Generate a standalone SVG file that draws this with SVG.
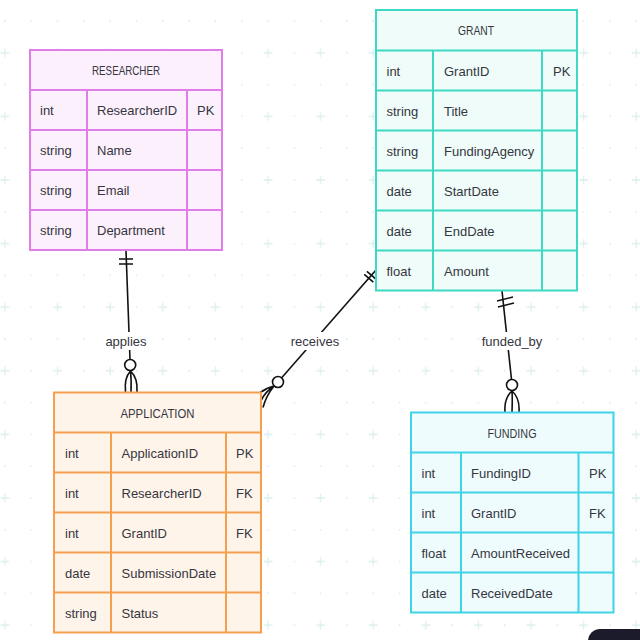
<svg xmlns="http://www.w3.org/2000/svg" width="640" height="640" viewBox="0 0 640 640">
<defs>
<pattern id="grid" patternUnits="userSpaceOnUse" x="-8.15" y="5.1" width="52.6" height="63.6">
<circle cx="13.15" cy="15.9" r="1" fill="#e4eaec"/>
<circle cx="39.45" cy="15.9" r="1" fill="#e4eaec"/>
<circle cx="39.45" cy="47.7" r="1" fill="#e4eaec"/>
<path d="M8.65,47.7 H17.65 M13.15,43.2 V52.2" stroke="#dcf0ee" stroke-width="1.3"/>
</pattern>
<style>
text{font-family:"Liberation Sans",Arial,sans-serif;font-size:13px;fill:#363640}
.h{text-anchor:middle;font-size:13.5px}
.lbl{text-anchor:middle;font-size:13px}
.res rect,.res line{stroke:#e07de9}
.res rect{fill:#fcf0fd}
.gra rect,.gra line{stroke:#3ed8c3}
.gra rect{fill:#effcfa}
.app rect,.app line{stroke:#f5a04e}
.app rect{fill:#fff4ea}
.fun rect,.fun line{stroke:#40d3e8}
.fun rect{fill:#effcfe}
.tbl rect,.tbl line{stroke-width:2}
.con path{fill:none;stroke:#111;stroke-width:1.6}
.con circle{fill:#fff;stroke:#111;stroke-width:1.6}
.lb{fill:#fff}
</style>
</defs>
<rect width="640" height="640" fill="#fff"/>
<rect width="640" height="640" fill="url(#grid)"/>

<g id="connectors" class="con">
<g id="applies">
<path d="M126,251 L130,359.5"/>
<path d="M119,259 H133 M119,264 H133"/>
<circle cx="130.2" cy="365" r="5.5"/>
<path d="M130.5,371 Q124,378 125.5,392 M130.5,371 Q131.5,380 131,392 M130.5,371 Q138,378 137,392"/>
<rect class="lb" x="102" y="332" width="48" height="18"/>
<text class="lbl" x="126" y="346">applies</text>
</g>
<g id="receives">
<path d="M376,270 L281.7,377.8"/>
<path d="M366.9,271.4 L375.9,279.2 M364.3,274.4 L373.3,282.2"/>
<circle cx="278" cy="382" r="5.5"/>
<path d="M274,386 Q266,388 259.5,393 M274,386 Q265,392 261.5,400 M274,386 Q266,396 263,407.5"/>
<rect class="lb" x="289" y="332" width="52" height="18"/>
<text class="lbl" x="315" y="346">receives</text>
</g>
<g id="funded_by">
<path d="M502,291 L511.5,379.5"/>
<path d="M497,301 L513,297 M498,307 L514,303"/>
<circle cx="512" cy="385" r="5.5"/>
<path d="M512,391 Q504,398 505,412 M512,391 Q512.5,400 512,412 M512,391 Q520,398 519,412"/>
<rect class="lb" x="481" y="332" width="62" height="18"/>
<text class="lbl" x="512" y="346">funded_by</text>
</g>
</g>

<g id="RESEARCHER" class="tbl res">
<rect x="30" y="50" width="192" height="200"/>
<line x1="30" y1="90" x2="222" y2="90"/>
<line x1="30" y1="130" x2="222" y2="130"/>
<line x1="30" y1="170" x2="222" y2="170"/>
<line x1="30" y1="210" x2="222" y2="210"/>
<line x1="87" y1="90" x2="87" y2="250"/>
<line x1="187" y1="90" x2="187" y2="250"/>
<text class="h" x="126" y="75" textLength="68" lengthAdjust="spacingAndGlyphs">RESEARCHER</text>
<text x="40" y="115">int</text><text x="97" y="115">ResearcherID</text><text x="197" y="115">PK</text>
<text x="40" y="155">string</text><text x="97" y="155">Name</text>
<text x="40" y="195">string</text><text x="97" y="195">Email</text>
<text x="40" y="235">string</text><text x="97" y="235">Department</text>
</g>

<g id="GRANT" class="tbl gra">
<rect x="376" y="10" width="201" height="280.5"/>
<line x1="376" y1="50.5" x2="577" y2="50.5"/>
<line x1="376" y1="90.5" x2="577" y2="90.5"/>
<line x1="376" y1="130.5" x2="577" y2="130.5"/>
<line x1="376" y1="170.5" x2="577" y2="170.5"/>
<line x1="376" y1="210.5" x2="577" y2="210.5"/>
<line x1="376" y1="250.5" x2="577" y2="250.5"/>
<line x1="433" y1="50.5" x2="433" y2="290.5"/>
<line x1="542" y1="50.5" x2="542" y2="290.5"/>
<text class="h" x="476" y="35" textLength="36" lengthAdjust="spacingAndGlyphs">GRANT</text>
<text x="386.5" y="75.5">int</text><text x="444" y="75.5">GrantID</text><text x="553" y="75.5">PK</text>
<text x="386.5" y="115.5">string</text><text x="444" y="115.5">Title</text>
<text x="386.5" y="155.5">string</text><text x="444" y="155.5">FundingAgency</text>
<text x="386.5" y="195.5">date</text><text x="444" y="195.5">StartDate</text>
<text x="386.5" y="235.5">date</text><text x="444" y="235.5">EndDate</text>
<text x="386.5" y="275.5">float</text><text x="444" y="275.5">Amount</text>
</g>

<g id="APPLICATION" class="tbl app">
<rect x="54" y="392.5" width="207" height="240"/>
<line x1="54" y1="432.5" x2="261" y2="432.5"/>
<line x1="54" y1="472.5" x2="261" y2="472.5"/>
<line x1="54" y1="512.5" x2="261" y2="512.5"/>
<line x1="54" y1="552.5" x2="261" y2="552.5"/>
<line x1="54" y1="592.5" x2="261" y2="592.5"/>
<line x1="111" y1="432.5" x2="111" y2="632.5"/>
<line x1="226" y1="432.5" x2="226" y2="632.5"/>
<text class="h" x="157.5" y="417.5" textLength="74" lengthAdjust="spacingAndGlyphs">APPLICATION</text>
<text x="65" y="457.5">int</text><text x="121.5" y="457.5">ApplicationID</text><text x="236" y="457.5">PK</text>
<text x="65" y="497.5">int</text><text x="121.5" y="497.5">ResearcherID</text><text x="236" y="497.5">FK</text>
<text x="65" y="537.5">int</text><text x="121.5" y="537.5">GrantID</text><text x="236" y="537.5">FK</text>
<text x="65" y="577.5">date</text><text x="121.5" y="577.5">SubmissionDate</text>
<text x="65" y="617.5">string</text><text x="121.5" y="617.5">Status</text>
</g>

<g id="FUNDING" class="tbl fun">
<rect x="411" y="412.5" width="202.5" height="200"/>
<line x1="411" y1="452.5" x2="613.5" y2="452.5"/>
<line x1="411" y1="492.5" x2="613.5" y2="492.5"/>
<line x1="411" y1="532.5" x2="613.5" y2="532.5"/>
<line x1="411" y1="572.5" x2="613.5" y2="572.5"/>
<line x1="461" y1="452.5" x2="461" y2="612.5"/>
<line x1="578.5" y1="452.5" x2="578.5" y2="612.5"/>
<text class="h" x="512" y="437.5" textLength="49" lengthAdjust="spacingAndGlyphs">FUNDING</text>
<text x="421.5" y="477.5">int</text><text x="471" y="477.5">FundingID</text><text x="589" y="477.5">PK</text>
<text x="421.5" y="517.5">int</text><text x="471" y="517.5">GrantID</text><text x="589" y="517.5">FK</text>
<text x="421.5" y="557.5">float</text><text x="471" y="557.5">AmountReceived</text>
<text x="421.5" y="597.5">date</text><text x="471" y="597.5">ReceivedDate</text>
</g>

<rect x="588" y="629" width="80" height="30" rx="12" fill="#1c1b2b"/>
</svg>
